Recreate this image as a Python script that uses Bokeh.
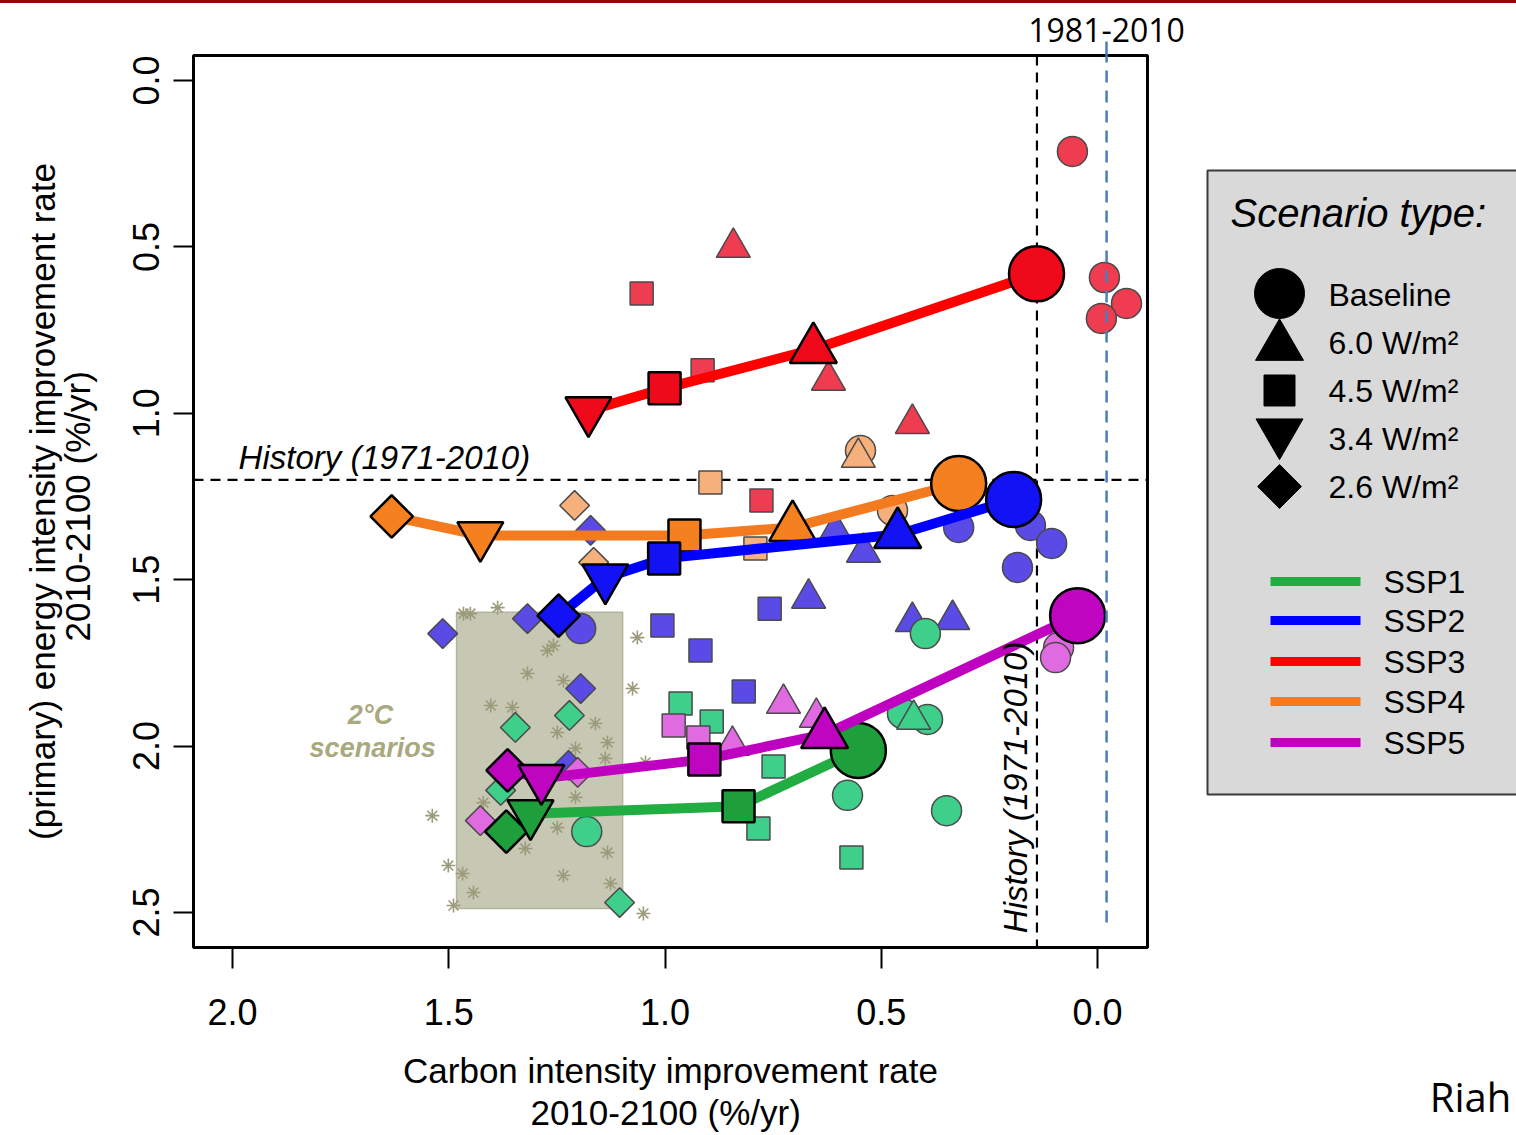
import math
from bokeh.plotting import figure
from bokeh.models import (Range1d, FixedTicker, PrintfTickFormatter, ColumnDataSource,
                          Arrow, Span, Div, LinearAxis)
from bokeh.layouts import row, column
from bokeh.core.properties import value
from bokeh.embed import file_html
from bokeh.resources import INLINE

FONT = "Liberation Sans"

# ---------------- data ----------------
x_ticks = [0.0, 0.5, 1.0, 1.5, 2.0]
y_ticks = [0.0, 0.5, 1.0, 1.5, 2.0, 2.5]

type_keys = ["Baseline", "6.0", "4.5", "3.4", "2.6"]
type_labels = ["Baseline", "6.0 W/m²", "4.5 W/m²", "3.4 W/m²", "2.6 W/m²"]
ssp_names = ["SSP1", "SSP2", "SSP3", "SSP4", "SSP5"]

# marker (lead) scenarios, connected by the SSP line
ssp1_x = [1.367, 1.311, 0.830, 0.553]
ssp1_y = [2.257, 2.203, 2.181, 2.013]
ssp1_t = ["2.6", "3.4", "4.5", "Baseline"]

ssp2_x = [1.246, 1.138, 1.002, 0.462, 0.194]
ssp2_y = [1.608, 1.494, 1.436, 1.364, 1.259]
ssp2_t = ["2.6", "3.4", "4.5", "6.0", "Baseline"]

ssp3_x = [1.177, 1.001, 0.657, 0.141]
ssp3_y = [0.992, 0.925, 0.808, 0.581]
ssp3_t = ["3.4", "4.5", "6.0", "Baseline"]

ssp4_x = [1.632, 1.427, 0.955, 0.705, 0.321]
ssp4_y = [1.310, 1.367, 1.367, 1.343, 1.211]
ssp4_t = ["2.6", "3.4", "4.5", "6.0", "Baseline"]

ssp5_x = [1.364, 1.286, 0.909, 0.631, 0.046]
ssp5_y = [2.073, 2.097, 2.040, 1.965, 1.608]
ssp5_t = ["2.6", "3.4", "4.5", "6.0", "Baseline"]

# other models (small markers)
ssp1_other_x = [1.346, 1.221, 1.380, 1.105, 1.181, 0.578, 0.349, 0.398, 0.451, 0.393,
                0.425, 0.964, 0.892, 0.749, 0.784, 0.569]
ssp1_other_y = [1.944, 1.908, 2.133, 2.470, 2.257, 2.148, 2.194, 1.662, 1.902, 1.920,
                1.920, 1.872, 1.926, 2.061, 2.248, 2.335]
ssp1_other_t = ["2.6", "2.6", "2.6", "2.6", "Baseline", "Baseline", "Baseline", "Baseline",
                "Baseline", "Baseline", "6.0", "4.5", "4.5", "4.5", "4.5", "4.5"]

ssp2_other_x = [1.172, 1.514, 1.318, 1.195, 1.223, 1.195, 1.006, 0.918, 0.758, 0.818,
                0.668, 0.606, 0.541, 0.428, 0.335, 0.321, 0.155, 0.106, 0.185]
ssp2_other_y = [1.352, 1.662, 1.617, 1.827, 2.058, 1.647, 1.638, 1.713, 1.587, 1.836,
                1.556, 1.355, 1.418, 1.626, 1.620, 1.343, 1.337, 1.391, 1.463]
ssp2_other_t = ["2.6", "2.6", "2.6", "2.6", "2.6", "Baseline", "4.5", "4.5", "4.5", "4.5",
                "6.0", "6.0", "6.0", "6.0", "6.0", "Baseline", "Baseline", "Baseline", "Baseline"]

ssp3_other_x = [0.058, -0.016, -0.067, -0.009, 0.842, 0.622, 0.428, 1.054, 0.913, 0.777]
ssp3_other_y = [0.213, 0.592, 0.670, 0.715, 0.502, 0.901, 1.031, 0.640, 0.871, 1.262]
ssp3_other_t = ["Baseline", "Baseline", "Baseline", "Baseline", "6.0", "6.0", "6.0",
                "4.5", "4.5", "4.5"]

ssp4_other_x = [0.548, 0.553, 0.895, 1.209, 1.165, 0.791, 0.474]
ssp4_other_y = [1.112, 1.133, 1.208, 1.277, 1.448, 1.406, 1.292]
ssp4_other_t = ["Baseline", "6.0", "4.5", "2.6", "2.6", "4.5", "Baseline"]

ssp5_other_x = [0.090, 0.097, 0.726, 0.650, 0.844, 0.980, 0.923, 1.427, 1.202]
ssp5_other_y = [1.704, 1.734, 1.872, 1.914, 1.998, 1.938, 1.974, 2.224, 2.079]
ssp5_other_t = ["Baseline", "Baseline", "6.0", "6.0", "6.0", "4.5", "4.5", "2.6", "2.6"]

# 2°C scenarios (asterisks) and their range box
two_deg_x = [1.466, 1.450, 1.387, 1.064, 1.272, 1.258, 1.318, 1.075, 1.403, 1.353,
             1.235, 1.249, 1.161, 1.133, 1.207, 1.138, 1.045, 1.538, 1.207, 1.249,
             1.133, 1.323, 1.501, 1.468, 1.235, 1.443, 1.126, 1.489, 1.050, 1.420]
two_deg_y = [1.602, 1.602, 1.584, 1.674, 1.713, 1.698, 1.782, 1.827, 1.878, 1.884,
             1.803, 1.959, 1.932, 1.989, 2.007, 2.037, 2.049, 2.209, 2.154, 2.245,
             2.320, 2.308, 2.359, 2.383, 2.389, 2.440, 2.413, 2.479, 2.503, 2.170]
two_deg_box = [1.482, 1.098, 1.598, 2.488]  # left, right, top, bottom

history_energy = 1.2          # %/yr, 1971-2010
history_carbon = 0.14         # %/yr, 1971-2010
history_carbon_8110 = -0.021  # %/yr, 1981-2010

# ---------------- styles ----------------
big_color = {"SSP1": "#1e9f3c", "SSP2": "#1212f5", "SSP3": "#ee0a1a", "SSP4": "#f5801f", "SSP5": "#bf05bf"}
line_color = {"SSP1": "#22ad42", "SSP2": "#0000ff", "SSP3": "#ff0000", "SSP4": "#f47a20", "SSP5": "#c000c0"}
small_color = {"SSP1": "#3ecf8a", "SSP2": "#5a4ae6", "SSP3": "#f03c50", "SSP4": "#f5b07c", "SSP5": "#e06ae0"}
marker_of = {"Baseline": "circle", "6.0": "triangle", "4.5": "square", "3.4": "inverted_triangle", "2.6": "square"}
angle_of = {"Baseline": 0.0, "6.0": 0.0, "4.5": 0.0, "3.4": 0.0, "2.6": math.pi / 4}
big_size = {"Baseline": 55, "6.0": 47, "4.5": 32, "3.4": 46, "2.6": 30}
small_size = {"Baseline": 30, "6.0": 34, "4.5": 23, "3.4": 32, "2.6": 21}
blue_ref = "#4a7ebb"


def src(xs, ys, ts, sizes):
    return ColumnDataSource(dict(
        x=xs, y=ys,
        marker=[marker_of[t] for t in ts],
        angle=[angle_of[t] for t in ts],
        size=[sizes[t] for t in ts]))


TOP, BOTTOM = 52, 188

# ---------------- main figure ----------------
p = figure(width=1200, height=1132,
           x_range=Range1d(2.0902, -0.1156), y_range=Range1d(2.6052, -0.0751),
           output_backend="svg", toolbar_location=None,
           min_border_left=193, min_border_right=53, min_border_top=TOP, min_border_bottom=BOTTOM)
p.grid.visible = False
p.background_fill_color = "white"
p.border_fill_color = "white"
p.outline_line_color = "black"
p.outline_line_width = 3

for ax, ticks in ((p.xaxis, x_ticks), (p.yaxis, y_ticks)):
    ax.ticker = FixedTicker(ticks=ticks)
    ax.formatter = PrintfTickFormatter(format="%.1f")
    ax.axis_line_color = None
    ax.major_tick_in = 0
    ax.major_tick_line_width = 2
    ax.major_tick_line_color = "black"
    ax.minor_tick_line_color = None
    ax.major_label_text_font = FONT
    ax.major_label_text_font_size = "36px"
    ax.major_label_text_color = "black"
    ax.axis_label_text_font = FONT
    ax.axis_label_text_font_size = "35px"
    ax.axis_label_text_font_style = "normal"
    ax.axis_label_text_color = "black"

p.xaxis.major_tick_out = 21
p.xaxis.major_label_standoff = 30
p.xaxis.axis_label = "Carbon intensity improvement rate\n2010-2100  (%/yr)"
p.xaxis.axis_label_standoff = 23
p.xaxis.axis_label_text_line_height = 1.1

p.yaxis.major_tick_out = 20
p.yaxis.major_label_orientation = "vertical"
p.yaxis.major_label_standoff = 14
p.yaxis.axis_label = "(primary) energy intensity improvement rate\n2010-2100  (%/yr)"
p.yaxis.axis_label_standoff = 34
p.yaxis.axis_label_text_line_height = 0.88

# label of the 1981-2010 history line, above the plot box
top_axis = LinearAxis(ticker=FixedTicker(ticks=[history_carbon_8110]),
                      major_label_overrides={history_carbon_8110: "1981-2010"},
                      axis_line_color=None, major_tick_line_color=blue_ref,
                      major_tick_line_width=2.5, major_tick_out=14, major_tick_in=0,
                      minor_tick_line_color=None, major_label_standoff=0,
                      major_label_text_font="Open Sans", major_label_text_font_size="32px",
                      major_label_text_color="black")
p.add_layout(top_axis, "above")

# history reference lines (under the markers)
p.add_layout(Span(location=history_energy, dimension="width", line_color="black",
                  line_width=2.2, line_dash="10 7", level="underlay"))
p.add_layout(Span(location=history_carbon, dimension="height", line_color="black",
                  line_width=2.2, line_dash="10 7", level="underlay"))

# 2°C box and scenarios
l, r, t, b = two_deg_box
p.quad(left=[l], right=[r], top=[t], bottom=[b], fill_color="#c7c8b3",
       line_color="#b4b59f", line_width=1.5)
p.scatter(two_deg_x, two_deg_y, marker="asterisk", size=14, line_color="#9b9b7c", line_width=1.6)

p.text(x=[1.681, 1.676], y=[1.908, 2.007], text=["2°C", "scenarios"],
       text_font=value(FONT), text_font_size=value("27px"), text_font_style=value("bold italic"),
       text_color="#a9a97f", text_align="center", text_baseline="middle")

# other models
others = {
    "SSP1": (ssp1_other_x, ssp1_other_y, ssp1_other_t),
    "SSP2": (ssp2_other_x, ssp2_other_y, ssp2_other_t),
    "SSP3": (ssp3_other_x, ssp3_other_y, ssp3_other_t),
    "SSP4": (ssp4_other_x, ssp4_other_y, ssp4_other_t),
    "SSP5": (ssp5_other_x, ssp5_other_y, ssp5_other_t),
}
for name in ["SSP4", "SSP2", "SSP3", "SSP1", "SSP5"]:
    xs, ys, ts = others[name]
    p.scatter("x", "y", source=src(xs, ys, ts, small_size), marker="marker", angle="angle",
              size="size", fill_color=small_color[name], line_color="#4a4a4a", line_width=1.5)

# marker scenarios with SSP lines
mains = {
    "SSP1": (ssp1_x, ssp1_y, ssp1_t),
    "SSP2": (ssp2_x, ssp2_y, ssp2_t),
    "SSP3": (ssp3_x, ssp3_y, ssp3_t),
    "SSP4": (ssp4_x, ssp4_y, ssp4_t),
    "SSP5": (ssp5_x, ssp5_y, ssp5_t),
}
for name in ["SSP4", "SSP1", "SSP2", "SSP3", "SSP5"]:
    xs, ys, ts = mains[name]
    p.line(xs, ys, line_color=line_color[name], line_width=10, line_join="round", line_cap="round")
    p.scatter("x", "y", source=src(xs, ys, ts, big_size), marker="marker", angle="angle",
              size="size", fill_color=big_color[name], line_color="black", line_width=2.5)

# history labels
p.text(x=[1.986], y=[1.133], text=["History (1971-2010)"], text_font=value(FONT),
       text_font_size=value("33px"), text_font_style=value("italic"), text_color="black",
       text_align="left", text_baseline="middle")
p.text(x=[0.190], y=[2.124], text=["History (1971-2010)"], angle=math.pi / 2,
       text_font=value(FONT), text_font_size=value("33px"), text_font_style=value("italic"),
       text_color="black", text_align="center", text_baseline="middle")

# 1981-2010 line
p.add_layout(Arrow(end=None, x_start=history_carbon_8110, y_start=-0.21,
                   x_end=history_carbon_8110, y_end=2.554,
                   line_color=blue_ref, line_width=2.5, line_dash="12 8"))

# ---------------- legend panel (coordinates in page pixels) ----------------
lg = figure(width=316, height=1132, x_range=Range1d(1200, 1516), y_range=Range1d(947, 55),
            output_backend="svg", toolbar_location=None,
            x_axis_location=None, y_axis_location=None,
            min_border_left=0, min_border_right=0,
            min_border_top=TOP, min_border_bottom=BOTTOM)
lg.grid.visible = False
lg.outline_line_color = None
lg.background_fill_color = "white"
lg.border_fill_color = "white"

lg.quad(left=[1207], right=[1530], top=[170], bottom=[794], fill_color="#d9d9d9",
        line_color="#3a3a3a", line_width=2)
lg.text(x=[1230], y=[212], text=["Scenario type:"], text_font=value(FONT),
        text_font_size=value("40px"), text_font_style=value("italic"), text_color="black",
        text_align="left", text_baseline="middle")

leg_marker_y = [293, 346, 390, 432, 486]
leg_label_y = [294, 342, 390, 438, 486]
leg_size = {"Baseline": 50, "6.0": 48, "4.5": 31, "3.4": 47, "2.6": 31}
lg.scatter("x", "y", source=src([1279] * 5, leg_marker_y, type_keys, leg_size),
           marker="marker", angle="angle", size="size", fill_color="black", line_color="black")
lg.text(x=[1328] * 5, y=leg_label_y, text=type_labels, text_font=value(FONT),
        text_font_size=value("32px"), text_color="black", text_align="left", text_baseline="middle")

leg_line_y = [581, 620, 661, 701, 742]
for name, yy in zip(ssp_names, leg_line_y):
    lg.line([1270, 1360], [yy, yy], line_color=line_color[name], line_width=9)
lg.text(x=[1383] * 5, y=leg_line_y, text=ssp_names, text_font=value(FONT),
        text_font_size=value("32px"), text_color="black", text_align="left", text_baseline="middle")

# citation (cut off at the slide edge in the original)
cite_axis = LinearAxis(ticker=FixedTicker(ticks=[1470]), major_label_overrides={1470: "Riah"},
                       axis_line_color=None, major_tick_line_color=None, minor_tick_line_color=None,
                       major_tick_out=0, major_tick_in=0, major_label_standoff=121,
                       major_label_text_font="Open Sans", major_label_text_font_size="40px",
                       major_label_text_color="black")
lg.add_layout(cite_axis, "below")

bar = Div(text="", width=1516, height=3, margin=0,
          styles={"background-color": "#8c0a0a", "overflow": "hidden"})

layout = column(bar, row(p, lg))
open("out.html", "w").write(file_html(layout, INLINE))
